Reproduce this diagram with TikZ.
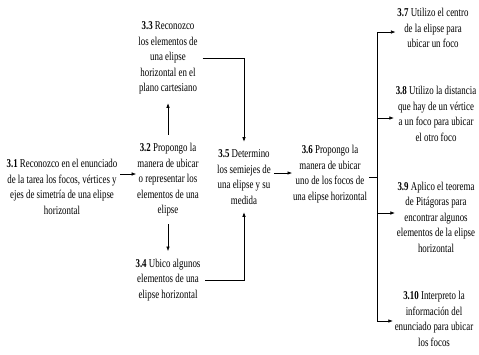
\documentclass[tikz,border=0pt]{standalone}
\usepackage{fontspec}
\setmainfont{Liberation Serif}[FakeStretch=0.74]
\usetikzlibrary{arrows.meta}
\begin{document}
\begin{tikzpicture}[x=1pt,y=-1pt,
  txt/.style={align=center, inner sep=0pt, outer sep=0pt, font=\fontsize{12}{15.5}\selectfont},
  arr/.style={-{Latex[length=4.5pt,width=3.5pt]}, line width=0.6pt},
  ln/.style={line width=0.6pt}]
\useasboundingbox (0,0) rectangle (479,354);
\node[txt] (n31) at (62,187) {\textbf{3.1} Reconozco en el enunciado\\de la tarea los focos, vértices y\\ejes de simetría de una elipse\\horizontal};
\node[txt] (n32) at (168,180) {\textbf{3.2} Propongo la\\manera de ubicar\\o representar los\\elementos de una\\elipse};
\node[txt] (n33) at (168,58) {\textbf{3.3} Reconozco\\los elementos de\\una elipse\\horizontal en el\\plano cartesiano};
\node[txt] (n34) at (168,280) {\textbf{3.4} Ubico algunos\\elementos de una\\elipse horizontal};
\node[txt] (n35) at (244,177) {\textbf{3.5} Determino\\los semiejes de\\una elipse y su\\medida};
\node[txt] (n36) at (330,174) {\textbf{3.6} Propongo la\\manera de ubicar\\uno de los focos de\\una elipse horizontal};
\node[txt] (n37) at (433,28) {\textbf{3.7} Utilizo el centro\\de la elipse para\\ubicar un foco};
\node[txt] (n38) at (436,114) {\textbf{3.8} Utilizo la distancia\\que hay de un vértice\\a un foco para ubicar\\el otro foco};
\node[txt] (n39) at (436,217) {\textbf{3.9} Aplico el teorema\\de Pitágoras para\\encontrar algunos\\elementos de la elipse\\horizontal};
\node[txt] (n310) at (434,319) {\textbf{3.10} Interpreto la\\información del\\enunciado para ubicar\\los focos};
\coordinate (r1) at (0,174);
\coordinate (r2) at (0,173);
\coordinate (bus) at (377,177);
\coordinate (b7) at (377,32);
\coordinate (b8) at (377,118);
\coordinate (b9) at (377,213);
\coordinate (b10) at (377,321);
\draw[arr, shorten <=3pt, shorten >=1pt] (n31.east |- r1) -- (n32.west |- r1);
\draw[arr, shorten <=9pt, shorten >=9pt] (n32.north) -- (n33.south);
\draw[arr, shorten <=8pt, shorten >=8pt] (n32.south) -- (n34.north);
\draw[arr] ([xshift=5pt]n33.east) -- (n33.east -| n35.north) -- ([yshift=8pt]n35.north);
\draw[arr] ([xshift=5pt]n34.east) -- (n34.east -| n35.south) -- ([yshift=-8pt]n35.south);
\draw[arr, shorten <=3pt, shorten >=1pt] (n35.east |- r2) -- (n36.west |- r2);
\draw[ln, shorten <=2pt] (n36.east |- bus) -- (bus);
\draw[ln] (b7) -- (b10);
\draw[arr, shorten >=2pt] (b7) -- (n37.west |- b7);
\draw[arr, shorten >=2pt] (b8) -- (n38.west |- b8);
\draw[arr, shorten >=2pt] (b9) -- (n39.west |- b9);
\draw[arr, shorten >=2pt] (b10) -- (n310.west |- b10);
\end{tikzpicture}
\end{document}
